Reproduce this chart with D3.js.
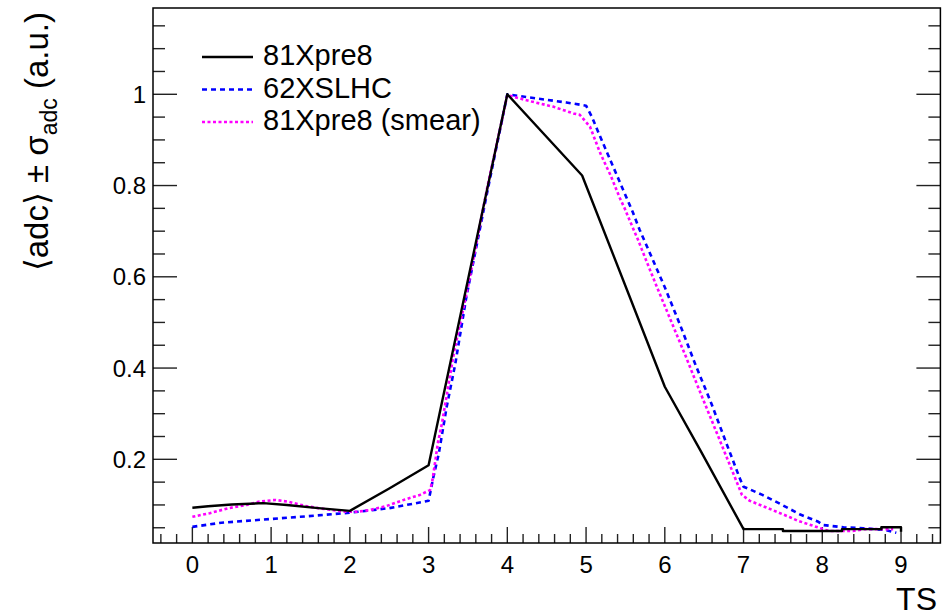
<!DOCTYPE html>
<html>
<head>
<meta charset="utf-8">
<script src="https://cdn.jsdelivr.net/npm/d3@7"></script>
<style>
  html, body { margin: 0; padding: 0; background: #fff; }
  svg { display: block; font-family: "Liberation Sans", Arial, Helvetica, sans-serif; }
</style>
</head>
<body>
<svg id="chart" width="945" height="616"></svg>
<script>
// ---- data ----
const xTicks = [0, 1, 2, 3, 4, 5, 6, 7, 8, 9];
const yTicks = [0.2, 0.4, 0.6, 0.8, 1];
const yTickLabels = ["0.2", "0.4", "0.6", "0.8", "1"];
const seriesNames = ["81Xpre8", "62XSLHC", "81Xpre8 (smear)"];

const tsBlack = [0, 0.2, 0.5, 0.9, 1.2, 1.6, 2, 2.5, 3, 4, 4.95, 5.55, 6, 6.45, 7, 7.5, 7.5, 8.25, 8.25, 8.75, 8.75, 9, 9];
const adcBlack = [0.094, 0.097, 0.101, 0.104, 0.100, 0.093, 0.087, 0.136, 0.187, 1.0, 0.822, 0.558, 0.359, 0.220, 0.047, 0.047, 0.043, 0.043, 0.047, 0.047, 0.051, 0.051, 0.041];

const tsBlue = [0, 0.37, 0.9, 1.37, 2, 2.5, 3, 3.06, 3.13, 3.23, 3.34, 3.48, 3.75, 4, 4.37, 4.75, 5, 5.07, 5.17, 5.27, 5.38, 5.48, 5.59, 5.68, 5.79, 6, 6.2, 6.39, 6.59, 6.78, 6.96, 7.0, 7.24, 7.48, 7.72, 7.95, 8.01, 8.27, 8.52, 8.8, 8.94];
const adcBlue = [0.052, 0.061, 0.068, 0.074, 0.083, 0.093, 0.109, 0.160, 0.213, 0.315, 0.410, 0.556, 0.790, 1.0, 0.991, 0.982, 0.975, 0.952, 0.911, 0.871, 0.827, 0.787, 0.743, 0.703, 0.660, 0.577, 0.492, 0.407, 0.323, 0.236, 0.155, 0.140, 0.122, 0.101, 0.079, 0.063, 0.056, 0.051, 0.049, 0.045, 0.039];

const tsMag = [0, 0.22, 0.46, 0.69, 0.84, 1.05, 1.22, 1.43, 1.6, 1.77, 1.96, 2.09, 2.26, 2.47, 2.7, 2.89, 3.02, 3.05, 3.12, 3.17, 3.32, 3.5, 3.75, 4, 4.31, 4.58, 4.84, 4.92, 5.05, 5.09, 5.18, 5.26, 5.31, 5.43, 5.49, 5.56, 5.66, 5.71, 5.77, 5.88, 6.06, 6.27, 6.36, 6.48, 6.57, 6.78, 6.98, 7.08, 7.21, 7.59, 7.68, 8.08, 8.39, 8.54, 8.9];
const adcMag = [0.074, 0.082, 0.093, 0.100, 0.107, 0.111, 0.107, 0.098, 0.093, 0.089, 0.085, 0.085, 0.089, 0.098, 0.112, 0.122, 0.133, 0.155, 0.238, 0.279, 0.432, 0.578, 0.800, 0.998, 0.984, 0.973, 0.958, 0.955, 0.929, 0.911, 0.871, 0.841, 0.823, 0.772, 0.750, 0.721, 0.681, 0.659, 0.633, 0.586, 0.511, 0.424, 0.385, 0.334, 0.296, 0.207, 0.122, 0.109, 0.100, 0.073, 0.066, 0.043, 0.043, 0.047, 0.047];

// ---- layout ----
const svg = d3.select("#chart");
const frame = { left: 153, right: 940.4, top: 8, bottom: 543 };
const x = d3.scaleLinear().domain([-0.5, 9.5]).range([frame.left, frame.right]);
const y = d3.scaleLinear().domain([0.0166, 1.1891]).range([frame.bottom, frame.top]);

const tickColor = "#222";

// x ticks (bottom only, inward)
const xMinor = d3.range(-0.4, 9.5, 0.2).map(v => Math.round(v * 10) / 10);
const gx = svg.append("g");
gx.selectAll("line.minor").data(xMinor).join("line")
  .attr("x1", d => x(d)).attr("x2", d => x(d))
  .attr("y1", frame.bottom).attr("y2", d => frame.bottom - (Math.abs(d - Math.round(d)) < 1e-6 ? 16 : 9))
  .attr("stroke", tickColor).attr("stroke-width", 1.4);
gx.selectAll("text").data(xTicks).join("text")
  .attr("x", d => x(d)).attr("y", 573)
  .attr("text-anchor", "middle").attr("font-size", 24).attr("fill", "#000")
  .text(d => d);

// y ticks (left and right, inward)
const yMinor = d3.range(1, 24).map(i => i * 0.05);
const isMajor = v => Math.abs(v * 5 - Math.round(v * 5)) < 1e-6;
const gy = svg.append("g");
gy.selectAll("line.l").data(yMinor).join("line").attr("class", "l")
  .attr("x1", frame.left).attr("x2", d => frame.left + (isMajor(d) ? 24 : 12))
  .attr("y1", d => y(d)).attr("y2", d => y(d))
  .attr("stroke", tickColor).attr("stroke-width", 1.4);
gy.selectAll("line.r").data(yMinor).join("line").attr("class", "r")
  .attr("x1", frame.right).attr("x2", d => frame.right - (isMajor(d) ? 24 : 12))
  .attr("y1", d => y(d)).attr("y2", d => y(d))
  .attr("stroke", tickColor).attr("stroke-width", 1.4);
gy.selectAll("text").data(yTicks).join("text")
  .attr("x", 146).attr("y", d => y(d) + 8.5)
  .attr("text-anchor", "end").attr("font-size", 24).attr("fill", "#000")
  .text((d, i) => yTickLabels[i]);

// frame
svg.append("rect")
  .attr("x", frame.left).attr("y", frame.top)
  .attr("width", frame.right - frame.left).attr("height", frame.bottom - frame.top)
  .attr("fill", "none").attr("stroke", "#000").attr("stroke-width", 1.5);

// series
const line = d3.line().x(d => x(d[0])).y(d => y(d[1]));
const series = [
  { name: seriesNames[0], ts: tsBlack, v: adcBlack, color: "#000", width: 2.4, dash: null },
  { name: seriesNames[1], ts: tsBlue, v: adcBlue, color: "#0000ff", width: 2.6, dash: "5,4" },
  { name: seriesNames[2], ts: tsMag, v: adcMag, color: "#ff00ff", width: 2.6, dash: "3,2.5" }
];
const drawOrder = [1, 2, 0];
drawOrder.forEach(i => {
  const s = series[i];
  svg.append("path")
    .datum(s.ts.map((t, j) => [t, s.v[j]]))
    .attr("d", line)
    .attr("fill", "none")
    .attr("stroke", s.color)
    .attr("stroke-width", s.width)
    .attr("stroke-dasharray", s.dash)
    .attr("stroke-linejoin", "round");
});

// legend
const leg = svg.append("g");
series.forEach((s, i) => {
  const by = 65 + i * 32.5;
  leg.append("line")
    .attr("x1", 202).attr("x2", 253).attr("y1", by - 8).attr("y2", by - 8)
    .attr("stroke", s.color).attr("stroke-width", s.width)
    .attr("stroke-dasharray", s.dash);
  leg.append("text")
    .attr("x", 263).attr("y", by)
    .attr("font-size", 29).attr("fill", "#000")
    .text(s.name);
});

// axis titles
svg.append("text")
  .attr("x", 937).attr("y", 610)
  .attr("text-anchor", "end").attr("font-size", 32).attr("fill", "#000")
  .text("TS");

const yt = svg.append("text")
  .attr("transform", "translate(48,12) rotate(-90)")
  .attr("text-anchor", "end").attr("font-size", 33).attr("fill", "#000");
yt.append("tspan").text("\u27E8adc\u27E9 \u00B1 \u03C3");
yt.append("tspan").attr("font-size", 23).attr("dy", 9).text("adc");
yt.append("tspan").attr("dy", -9).text(" (a.u.)");
</script>
</body>
</html>
